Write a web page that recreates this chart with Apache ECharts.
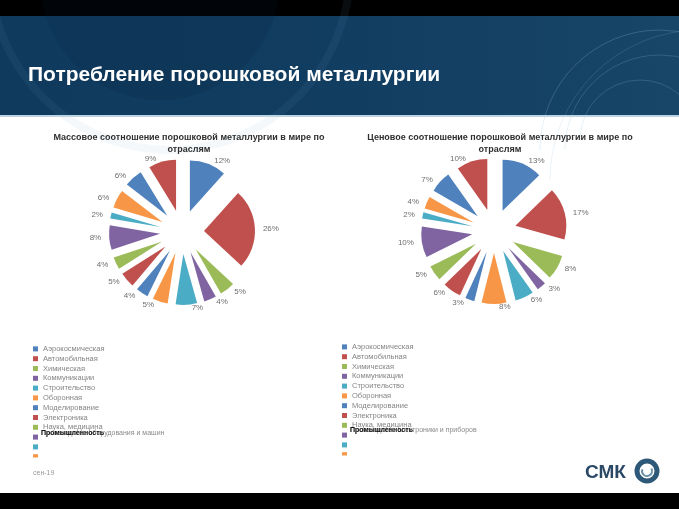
<!DOCTYPE html>
<html><head><meta charset="utf-8">
<script src="https://cdn.jsdelivr.net/npm/echarts@6/dist/echarts.min.js"></script>
<style>html,body{margin:0;padding:0;background:#fff}#c{width:679px;height:509px}</style>
</head><body><div id="c"></div>
<script>
const categories = ['Аэрокосмическая','Автомобильная','Химическая','Коммуникации','Строительство','Оборонная','Моделирование','Электроника','Наука, медицина','Промышленное оборудование','Бытовая техника','Инструмент','Энергетика','Прочее'];
const massValues  = [12, 26, 5, 4, 7, 5, 4, 5, 4, 8, 2, 6, 6, 9];
const priceValues = [13, 17, 8, 3, 6, 8, 3, 6, 5, 10, 2, 4, 7, 10];
const palette = ['#4F81BD','#C0504D','#9BBB59','#8064A2','#4BACC6','#F79646'];
const titleMain = 'Потребление порошковой металлургии';
const titleLeft = 'Массовое соотношение порошковой металлургии в мире по\nотраслям';
const titleRight = 'Ценовое соотношение порошковой металлургии в мире по\nотраслям';
const footerDate = 'сен-19';
const legendShown = 12;
const legendNamed = 9;

const font = 'Liberation Sans, Arial, sans-serif';
const chart = echarts.init(document.getElementById('c'), null, {renderer:'canvas'});

function pieData(vals){ return vals.map((v,i)=>({name:categories[i], value:v, selected:true})); }
function pieSeries(vals, cx, cy){
  return {
    type:'pie', center:[cx,cy], radius:[0,51], startAngle:90, clockwise:true,
    selectedMode:'multiple', selectedOffset:22, avoidLabelOverlap:false,
    minShowLabelAngle:0, animation:false,
    itemStyle:{borderWidth:0},
    label:{show:true, position:'outside', formatter:'{c}%', fontSize:8, color:'#6e6e6e', fontFamily:font},
    labelLine:{show:false, length:3, length2:0},
    emphasis:{disabled:true},
    data:pieData(vals)
  };
}
function legendCfg(left, top){
  return {
    orient:'vertical', left:left, top:top, padding:0, itemGap:0,
    itemWidth:5, itemHeight:5, icon:'rect', selectedMode:false,
    data:categories.slice(0, legendShown),
    formatter:function(n){ return categories.indexOf(n) < legendNamed ? n : '\u00a0'; },
    textStyle:{fontSize:7.5, lineHeight:9.8, height:9.8, color:'#858585', fontFamily:font}
  };
}

chart.setOption({
  backgroundColor:'#ffffff',
  color:palette,
  animation:false,
  title:[
    {text:titleLeft, left:184, top:127, textAlign:'center',
     textStyle:{fontSize:9, fontWeight:'bold', color:'#2f2f2f', fontFamily:font, lineHeight:12, align:'center'}},
    {text:titleRight, left:495, top:127, textAlign:'center',
     textStyle:{fontSize:9, fontWeight:'bold', color:'#2f2f2f', fontFamily:font, lineHeight:12, align:'center'}}
  ],
  legend:[legendCfg(33,344), legendCfg(342,342)],
  graphic:[
    {type:'rect', shape:{x:0,y:0,width:679,height:16}, style:{fill:'#000'}, z:-10},
    {type:'rect', shape:{x:0,y:16,width:679,height:100},
     style:{fill:new echarts.graphic.LinearGradient(0,0,1,0,[{offset:0,color:'#0f3a5d'},{offset:0.5,color:'#113d61'},{offset:1,color:'#174669'}])}, z:-10},
    {type:'circle', shape:{cx:160,cy:-20,r:120}, style:{fill:'rgba(5,30,55,0.15)'}, z:-9},
    {type:'arc', shape:{cx:170,cy:-30,r:180,startAngle:0.1,endAngle:Math.PI-0.1}, style:{stroke:'rgba(120,170,210,0.08)',lineWidth:8,fill:null}, z:-9},
    {type:'arc', shape:{cx:660,cy:150,r:120,startAngle:Math.PI,endAngle:1.9*Math.PI}, style:{stroke:'rgba(150,190,220,0.25)',lineWidth:1,fill:null}, z:-9},
    {type:'arc', shape:{cx:660,cy:150,r:95,startAngle:Math.PI,endAngle:1.9*Math.PI}, style:{stroke:'rgba(150,190,220,0.22)',lineWidth:1,fill:null}, z:-9},
    {type:'arc', shape:{cx:640,cy:140,r:60,startAngle:Math.PI,endAngle:1.95*Math.PI}, style:{stroke:'rgba(150,190,220,0.22)',lineWidth:1,fill:null}, z:-9},
    {type:'arc', shape:{cx:700,cy:180,r:150,startAngle:Math.PI,endAngle:1.6*Math.PI}, style:{stroke:'rgba(150,190,220,0.18)',lineWidth:1,fill:null}, z:-9},
    {type:'rect', shape:{x:0,y:115,width:679,height:2}, style:{fill:'#bcd3e2'}, z:-8},
    {type:'text', x:28, y:75, style:{text:titleMain, fill:'#ffffff', font:'bold 21px '+font, textVerticalAlign:'middle'}, z:5},
    {type:'text', x:41, y:433, style:{text:'Производство оборудования и машин', fill:'#8a8a8a', font:'7px '+font, textVerticalAlign:'middle'}, z:5},
    {type:'text', x:41, y:433, style:{text:'Промышленность', fill:'#111', font:'bold 7px '+font, textVerticalAlign:'middle'}, z:6},
    {type:'text', x:350, y:430, style:{text:'Производство электроники и приборов', fill:'#8a8a8a', font:'7px '+font, textVerticalAlign:'middle'}, z:5},
    {type:'text', x:350, y:430, style:{text:'Промышленность', fill:'#111', font:'bold 7px '+font, textVerticalAlign:'middle'}, z:6},
    {type:'rect', shape:{x:28,y:457.5,width:200,height:12}, style:{fill:'#fff'}, z:100},
    {type:'rect', shape:{x:338,y:455.5,width:200,height:12}, style:{fill:'#fff'}, z:100},
    {type:'text', x:33, y:473, style:{text:footerDate, fill:'#9a9a9a', font:'7px '+font, textVerticalAlign:'middle'}, z:5},
    {type:'text', x:585, y:473, style:{text:'СМК', fill:'#2b4866', font:'bold 19px '+font, textVerticalAlign:'middle'}, z:5},
    {type:'circle', shape:{cx:647,cy:471,r:10}, style:{fill:'none', stroke:'#2d5878', lineWidth:5}, z:5},
    {type:'arc', shape:{cx:647,cy:471,r:5,startAngle:-0.5,endAngle:3.5}, style:{fill:'none', stroke:'#6a8fa8', lineWidth:2}, z:5},
    {type:'rect', shape:{x:0,y:493,width:679,height:16}, style:{fill:'#000'}, z:-10}
  ],
  series:[pieSeries(massValues,182,232), pieSeries(priceValues,494,231)]
});
</script></body></html>
